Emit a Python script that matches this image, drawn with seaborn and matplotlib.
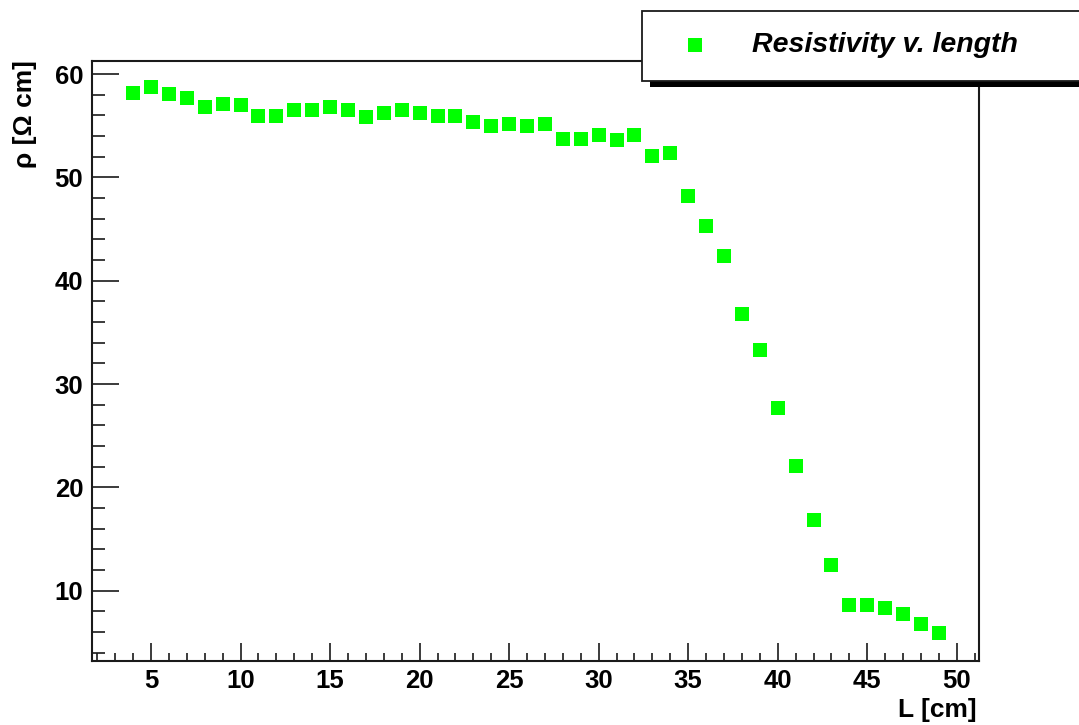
import matplotlib
matplotlib.use("Agg")
import matplotlib.pyplot as plt
import seaborn as sns
import numpy as np
import pandas as pd
from matplotlib.patches import Rectangle
from matplotlib.ticker import MultipleLocator

# ---- data ----
length_cm = [4, 5, 6, 7, 8, 9, 10, 11, 12, 13, 14, 15, 16, 17, 18, 19, 20, 21, 22, 23,
             24, 25, 26, 27, 28, 29, 30, 31, 32, 33, 34, 35, 36, 37, 38, 39, 40, 41,
             42, 43, 44, 45, 46, 47, 48, 49]
resistivity = [58.2, 58.7, 58.1, 57.7, 56.8, 57.1, 57.0, 55.9, 55.9, 56.5, 56.5, 56.8,
               56.5, 55.8, 56.2, 56.5, 56.2, 55.9, 55.9, 55.4, 55.0, 55.2, 55.0, 55.2,
               53.7, 53.7, 54.1, 53.6, 54.1, 52.1, 52.4, 48.2, 45.3, 42.4, 36.8, 33.3,
               27.7, 22.1, 16.8, 12.5, 8.6, 8.6, 8.3, 7.7, 6.8, 5.9]
series_label = "Resistivity v. length"
x_label = "L [cm]"
y_label = "ρ [Ω cm]"

df = pd.DataFrame({"L": length_cm, "rho": resistivity})

sns.set_theme(style="white")
plt.rcParams["font.family"] = ["Liberation Sans", "DejaVu Sans"]
plt.rcParams["text.color"] = "black"
plt.rcParams["xtick.color"] = "black"
plt.rcParams["ytick.color"] = "black"

W, H = 1079, 725
fig = plt.figure(figsize=(W / 100, H / 100), dpi=100)
ax_l, ax_r, ax_b, ax_t = 92.3, 979.3, 661, 61
ax = fig.add_axes([ax_l / W, 1 - ax_b / H, (ax_r - ax_l) / W, (ax_b - ax_t) / H])

sns.scatterplot(data=df, x="L", y="rho", marker="s", s=88, color="#00ff00",
                linewidth=0, ax=ax, label=series_label)

ax.set_xlim(1.72, 51.26)
ax.set_ylim(3.2, 61.26)

ax.xaxis.set_minor_locator(MultipleLocator(1))
ax.yaxis.set_minor_locator(MultipleLocator(2))
ax.set_xticks([5, 10, 15, 20, 25, 30, 35, 40, 45, 50])
ax.set_yticks([10, 20, 30, 40, 50, 60])

for s in ax.spines.values():
    s.set_visible(True)
    s.set_color("#1a1a1a")
    s.set_linewidth(1.5)

ax.tick_params(axis="x", which="major", direction="in", length=13, width=1.2,
               color="#1a1a1a", labelcolor="black", labelsize=18.5, pad=6,
               bottom=True, top=False)
ax.tick_params(axis="x", which="minor", direction="in", length=6, width=1.2,
               color="#1a1a1a", bottom=True, top=False)
ax.tick_params(axis="y", which="major", direction="in", length=19.5, width=1.2,
               color="#1a1a1a", labelcolor="black", labelsize=18.5, pad=6.5,
               left=True, right=False)
ax.tick_params(axis="y", which="minor", direction="in", length=9.5, width=1.2,
               color="#1a1a1a", left=True, right=False)
for lab in ax.get_xticklabels() + ax.get_yticklabels():
    lab.set_fontweight("bold")

ax.set_xlabel("")
ax.set_ylabel("")
fig.text(977 / W, 1 - 710 / H, x_label, ha="right", va="center",
         fontsize=19, fontweight="bold", color="black")
fig.text(25 / W, 1 - 60 / H, y_label, ha="center", va="top", rotation=90,
         fontsize=19, fontweight="bold", color="black")

# legend box with shadow (ROOT style)
fig.add_artist(Rectangle((650 / W, 1 - 87 / H), (W - 650) / W, 6 / H,
                         transform=fig.transFigure, facecolor="black",
                         edgecolor="none", zorder=5))
fig.add_artist(Rectangle((641.7 / W, 1 - 81 / H), (W + 5 - 641.7) / W, 70 / H,
                         transform=fig.transFigure, facecolor="white",
                         edgecolor="#1a1a1a", linewidth=1.3, zorder=6))
fs_leg = 20.5
leg = ax.legend(loc="center left", bbox_to_anchor=(682.5 / W, 1 - 45 / H),
                bbox_transform=fig.transFigure, frameon=False, borderpad=0,
                borderaxespad=0, handlelength=25 / (fs_leg * 100 / 72),
                handletextpad=44.5 / (fs_leg * 100 / 72),
                prop={"size": fs_leg, "weight": "bold", "style": "italic"})
for t in leg.get_texts():
    t.set_color("black")
leg.set_zorder(7)
leg.remove()
fig.add_artist(leg)

fig.savefig("out.png", dpi=100)
